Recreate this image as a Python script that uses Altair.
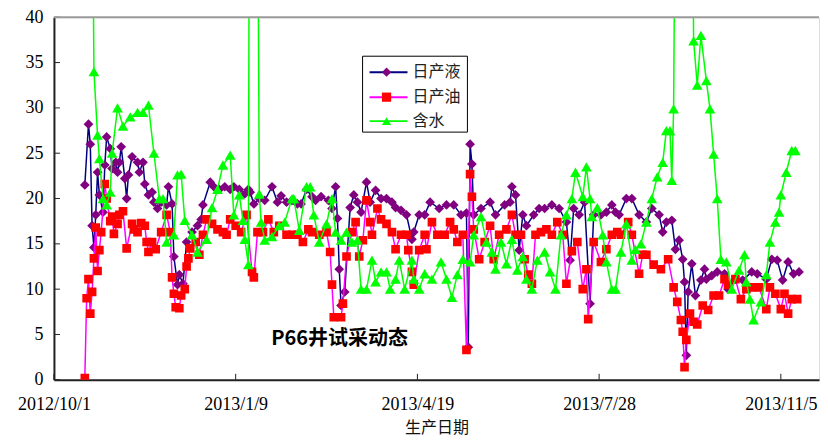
import altair as alt
import pandas as pd

BASE = pd.Timestamp("2012-10-01")

# 日产液 (daily liquid)
liq_day = [17,19,20,21,22,23,24,25,27,28,29,31,32,34,35,36,37,39,40,41,43,46,47,49,50,52,54,55,57,59,62,63,65,66,68,69,71,73,76,79,81,82,86,88,91,94,97,99,102,105,107,108,110,113,116,120,123,125,128,131,134,136,139,142,144,147,151,153,155,156,157,158,160,163,165,167,169,172,174,177,180,183,186,188,191,194,197,198,201,204,207,212,216,220,224,227,228,229,230,231,235,240,243,248,251,252,254,256,258,260,264,267,270,274,278,282,284,286,289,292,295,297,301,304,307,309,311,315,318,322,326,329,333,335,337,340,342,344,346,347,348,349,351,353,356,358,359,362,365,369,371,375,379,384,387,392,395,398,401,404,407,410]
liq_val = [21.5,28.2,26,17,14.6,18.2,22.9,20.4,18.5,23.7,26.8,25.5,23.3,24,22.9,24,25.7,22.2,20,22.6,24.6,24,22.9,24,21.6,20.4,20.7,19.6,18.9,19.6,19.3,21.3,19.4,13.6,10.5,11.6,10.6,15.2,16.3,17,17.7,19.3,21.8,21.3,21,21.3,21,21.3,21,20.5,21,20.7,19.4,20,19.8,21.3,19.6,20.3,19.6,19.8,19.4,19.4,21,20.2,19.8,20.2,19.8,18.9,21.3,17.8,12.2,8.2,9.7,19,20.4,19.6,18.5,21.8,19.6,20.9,20,20,19.6,19,18.7,18.2,15.5,16.3,18.2,18.2,19.6,18.9,19.3,19.3,18.2,18.4,3.6,26,23.8,18.2,18.9,19.6,18.2,19.3,19.6,21.3,20.4,14.3,18.2,17,18.2,18.9,18.9,19.3,18.9,17.4,13.2,18.9,18.2,19.6,8.4,18.2,18.2,18.5,19.3,18.5,18.2,20,20,18.2,17.4,18.9,18.2,16.3,17.4,17.6,14.4,15.4,13.3,10.8,2.7,9.7,12.8,9.3,11,12.2,11.1,11.5,11.9,11.7,10,11.1,11,11.9,11.7,11.1,13.3,13.2,11,13,11.7,11.9]

# 日产油 (daily oil)
oil_day = [17,18,19,20,21,22,23,24,25,26,28,29,31,32,33,35,36,38,40,43,44,46,48,50,51,52,54,56,59,62,64,65,66,67,69,70,72,73,74,75,78,80,82,84,87,90,93,95,97,100,103,106,109,110,112,115,118,121,124,128,131,134,137,140,142,146,150,152,153,154,158,159,161,164,166,168,170,172,174,175,178,180,183,186,188,191,194,195,197,198,201,204,205,208,211,215,218,220,222,225,227,229,230,231,234,237,240,242,245,249,252,254,257,259,261,263,265,268,271,274,277,280,282,285,288,291,293,294,297,301,304,307,310,312,316,318,322,324,326,330,334,338,341,343,345,346,347,348,350,352,354,357,360,363,366,369,371,375,378,381,384,388,392,394,397,400,402,404,406,409]
oil_val = [0.2,9.0,11.1,7.3,9.7,13.4,16.8,12.0,14.3,16.3,21.6,20.0,17.5,18,16.1,17.2,18.2,18.6,14.5,17.2,16.6,16.3,17.3,17,15.2,14.1,15.2,14.4,16.3,18.2,16.3,11.3,9.5,8,7.9,9.3,10,12.5,13.4,14.5,15.2,13.8,16,17.7,17.2,16.6,16.3,16,17.7,17,16.3,18.2,11.9,11.3,16.3,16.3,17.7,16.3,17,16,16,16,15.2,16.6,16.3,16,16.3,14.1,10.5,6.9,6.9,8.4,13.6,16.3,17.4,13.6,15.4,19.8,17.4,16,18.9,17.7,17.2,16.3,14.4,16,16,14.3,11.9,10.5,14.3,16,14.4,17.4,16,16,17.4,16.6,15.2,16,3.3,22.7,20.2,16.6,13.3,15.2,17,13.3,16,16.6,18.2,16,16,13.3,11.6,10.6,16,16.3,16.6,16,17.4,16,10.6,14.2,15.2,10,12.2,6.7,15.2,13,14.4,16,16.3,16,17.4,16,11.7,13.8,13.8,12.7,12.2,13.3,10.2,8.6,6.6,5.3,1.4,4.4,7.3,6.4,6.1,8.2,7.7,9.3,9.3,11.1,10.5,11.1,8.9,10,10.2,10.2,7.8,10.2,9.5,7.8,9.5,7.3,8.9,8.9]

# 含水 (water cut)
wat_day = [20,22,24,25,27,29,31,32,35,38,42,46,49,52,55,58,60,62,66,68,70,72,76,79,84,87,90,93,97,99,102,104,105,107,108,111,113,114,116,120,124,127,131,132,135,139,141,143,146,150,153,155,158,161,164,167,169,172,175,177,180,183,185,188,190,193,197,198,201,204,208,213,216,219,222,225,229,231,235,238,241,243,246,249,252,255,258,260,263,266,270,273,276,279,282,285,287,291,293,295,296,299,302,304,307,309,312,315,318,320,323,326,329,332,335,337,339,340,341,343,350,352,354,356,359,361,363,365,367,370,373,377,380,381,383,385,389,392,394,397,399,400,403,406,408]
wat_val = [90,34,27,24.4,20,19.3,20.7,25,30,28,29,29.5,29.5,30.3,25,20,20,15.2,16,22.6,22.7,17.6,16,14.1,15.5,19,21,23.7,24.8,18.2,20.4,17.6,15.5,12.7,100,100,20.5,17.4,15.4,15.8,17,17.4,20,20,16.5,21.3,21.3,18.2,15.2,17.2,20,16.3,15.4,16.3,15.2,15.4,10,10,13.2,10.8,11.9,11.9,10,11.1,13.2,10,13.2,11.1,10,11.7,11.1,13,11.1,9.1,11.6,13.3,13,16,18,15.2,14.1,12.2,15.2,12.8,15.5,12.1,13.6,11.1,10,13.2,14.1,11.9,10,16,18.2,20,22.9,20.2,23.5,20,18,19,16,13,10,10,14.1,17.2,13.2,14.4,15,17.4,20,22.4,24,27.5,27.5,22,29.9,90,90,37.4,32.5,38,33,29.9,24.9,20,13.3,13,10,12.1,13.8,10.8,8.9,6.6,8.6,11.6,15.2,17.4,18.5,20.4,22.9,25.3,25.3]

y_ticks = [0, 5, 10, 15, 20, 25, 30, 35, 40]
x_tick_days = [0, 100, 200, 300, 400]   # 2012/10/1, 2013/1/9, 2013/4/19, 2013/7/28, 2013/11/5
x_end_day = 421

series_names = ["日产液", "日产油", "含水"]
title_text = "P66井试采动态"
x_title = "生产日期"

W, H = 766, 363


def to_ms(days):
    return [int((BASE + pd.Timedelta(days=d)).value // 10**6) for d in days]


xscale = alt.Scale(type="utc", domain=to_ms([0, x_end_day]))
yscale = alt.Scale(domain=[0, 40], nice=False, zero=True)

label_font = "Liberation Serif"
cjk_font = "Noto Sans CJK SC"

x_axis = alt.Axis(values=to_ms(x_tick_days), format="%Y/%-m/%-d",
                  tickSize=0, labelPadding=16, labelFont=label_font, labelFontSize=18,
                  labelColor="#000", domainColor="#222", domainWidth=2, grid=False,
                  title=x_title, titleFont=cjk_font, titleFontSize=16,
                  titleFontWeight="normal", titleColor="#111", titlePadding=6,
                  labelFlush=False)
y_axis = alt.Axis(values=y_ticks, tickSize=0, labelPadding=11, labelFont=label_font,
                  labelFontSize=18, labelColor="#000", domainColor="#222", domainWidth=2,
                  grid=False, title=None, minExtent=41, maxExtent=41)


def frame(days, vals):
    return pd.DataFrame({"t": to_ms(days), "v": vals})


df_liq = frame(liq_day, liq_val)
df_oil = frame(oil_day, oil_val)
df_wat = frame(wat_day, wat_val)

enc = dict(x=alt.X("t:T", scale=xscale, axis=x_axis),
           y=alt.Y("v:Q", scale=yscale, axis=y_axis))

liq_line = alt.Chart(df_liq).mark_line(color="#000080", strokeWidth=1.5, clip=True).encode(**enc)
liq_pts = alt.Chart(df_liq).mark_point(shape="diamond", filled=True, color="#800080",
                                       opacity=1, size=95, clip=True).encode(**enc)
oil_line = alt.Chart(df_oil).mark_line(color="#FF00FF", strokeWidth=1.5, clip=True).encode(**enc)
oil_pts = alt.Chart(df_oil).mark_point(shape="square", filled=True, color="#FF0000",
                                       opacity=1, size=75, clip=True).encode(**enc)
wat_line = alt.Chart(df_wat).mark_line(color="#00FF00", strokeWidth=1.5, clip=True).encode(**enc)
wat_pts = alt.Chart(df_wat).mark_point(shape="triangle-up", filled=True, color="#00FF00",
                                       opacity=1, size=115, clip=True).encode(**enc)

# inward tick marks
ytick_df = pd.DataFrame({"v": y_ticks})
ytick = alt.Chart(ytick_df).mark_rule(color="#222", strokeWidth=1).encode(
    y=alt.Y("v:Q", scale=yscale, axis=y_axis), x=alt.value(0), x2=alt.value(6))
xtick_df = pd.DataFrame({"t": to_ms(x_tick_days)})
xtick = alt.Chart(xtick_df).mark_rule(color="#222", strokeWidth=1).encode(
    x=alt.X("t:T", scale=xscale, axis=x_axis), y=alt.value(H), y2=alt.value(H - 6))

one = pd.DataFrame({"k": [0]})
top_border = alt.Chart(one).mark_rule(color="#9a9a9a", strokeWidth=2).encode(
    x=alt.value(0), x2=alt.value(W), y=alt.value(0))

title = alt.Chart(one).mark_text(text=title_text, font=cjk_font, fontSize=20,
                                 fontWeight="bold", color="#000").encode(
    x=alt.value(286), y=alt.value(322))

# legend (built by hand)
leg_box = alt.Chart(one).mark_rect(fill="white", stroke="#000", strokeWidth=1).encode(
    x=alt.value(309), x2=alt.value(414), y=alt.value(39), y2=alt.value(115))
leg_df = pd.DataFrame({
    "name": series_names,
    "ly": [55, 80, 104],
    "line": ["#000080", "#FF00FF", "#00FF00"],
    "fill": ["#800080", "#FF0000", "#00FF00"],
    "shape": ["diamond", "square", "triangle-up"],
})
leg_lines = alt.Chart(leg_df).mark_rule(strokeWidth=2).encode(
    x=alt.value(316), x2=alt.value(354), y=alt.Y("ly:Q", scale=None, axis=None),
    color=alt.Color("line:N", scale=None))
leg_pts = alt.Chart(leg_df).mark_point(filled=True, opacity=1, size=85).encode(
    x=alt.value(333), y=alt.Y("ly:Q", scale=None, axis=None),
    color=alt.Color("fill:N", scale=None), shape=alt.Shape("shape:N", scale=None))
leg_txt = alt.Chart(leg_df).mark_text(align="left", baseline="middle", font=cjk_font,
                                      fontSize=16, color="#222").encode(
    x=alt.value(359), y=alt.Y("ly:Q", scale=None, axis=None), text="name:N")

chart = alt.layer(
    liq_line, liq_pts, oil_line, oil_pts, wat_line, wat_pts,
    ytick, xtick, top_border, title, leg_box, leg_lines, leg_pts, leg_txt,
).properties(
    width=W, height=H,
    padding={"left": 5, "top": 0, "right": 0, "bottom": 3},
).configure_view(stroke=None).configure(background="white")

chart.save("out.html", embed_options={"renderer": "svg", "actions": False})
